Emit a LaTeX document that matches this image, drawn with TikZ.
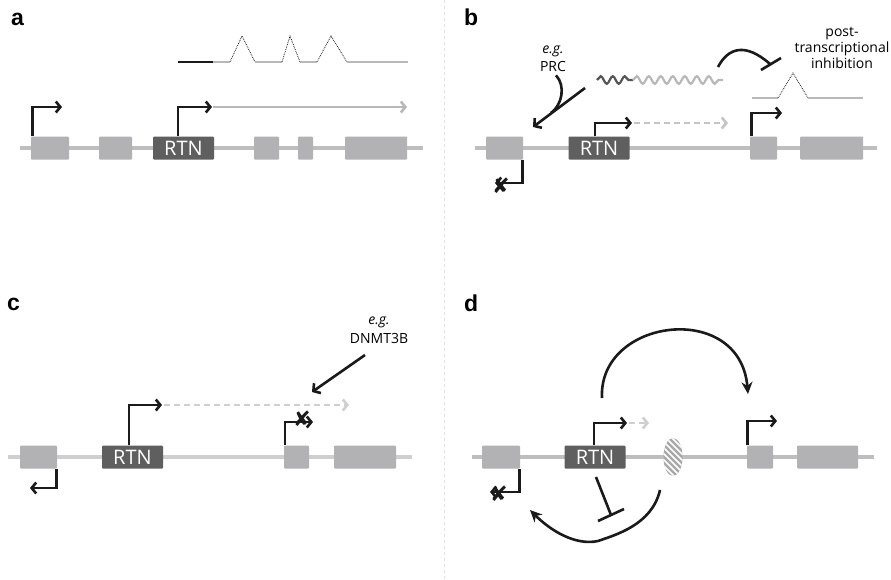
\documentclass[tikz,border=0pt]{standalone}
\usepackage{fontspec}
\setmainfont{Open Sans}
\newfontfamily\lblfont{Liberation Sans}
\newfontfamily\symfont{DejaVu Sans}
\usetikzlibrary{arrows.meta,decorations.pathmorphing,shapes.geometric,calc}
\definecolor{bbgray}{HTML}{BEBEBE}
\definecolor{bblight}{HTML}{CFCFCF}
\definecolor{exgray}{HTML}{B2B2B4}
\definecolor{rtngray}{HTML}{5F5F5F}
\definecolor{txgray}{HTML}{B8B8B8}
\definecolor{dashgray}{HTML}{C4C4C4}
\definecolor{ink}{HTML}{1A1A1A}
\definecolor{wavedark}{HTML}{555555}
\definecolor{insgray}{HTML}{A8A8A8}
\tikzset{
  lbl/.style={anchor=base west, inner sep=0pt, font=\lblfont\bfseries\fontsize{23}{23}\selectfont},
  backbone/.style={line width=4.2pt, color=bbgray},
  exon/.style={rectangle, fill=exgray, rounded corners=1pt, inner sep=0pt, minimum height=23pt},
  rtnbox/.style={rectangle, fill=rtngray, rounded corners=1pt, inner sep=0pt, minimum height=23pt, minimum width=61pt, text=white, font=\fontsize{20}{20}\selectfont},
  prom/.style={line width=2.6pt, color=ink, -{Straight Barb[length=4.5pt,width=11pt]}},
  revprom/.style={line width=2.6pt, color=ink, -{Straight Barb[length=4.5pt,width=11pt]}},
  grayarrow/.style={line width=2.6pt, color=txgray, -{Straight Barb[length=4.5pt,width=11pt]}},
  dasharrow/.style={line width=2.6pt, color=dashgray, dash pattern=on 6pt off 4pt, -{Straight Barb[length=4.5pt,width=11pt]}},
  txline/.style={line width=2.6pt, color=txgray},
  intron/.style={line width=0.8pt, color=ink, densely dotted},
  pointer/.style={line width=2.6pt, color=ink, -{Straight Barb[length=5pt,width=12pt]}},
  plainline/.style={line width=2.6pt, color=ink},
  bigarc/.style={line width=2.6pt, color=ink, -{Stealth[length=12pt,width=11pt]}},
  note/.style={inner sep=0pt, align=center, font=\fontsize{14}{16}\selectfont},
  xmark/.style={inner sep=0pt, font=\symfont\bfseries\fontsize{21}{21}\selectfont, text=ink},
  wave/.style={line width=2.2pt, decorate, decoration={snake, segment length=12pt, amplitude=3.8pt}},
  divider/.style={line width=1pt, color=black!12, dash pattern=on 3pt off 3pt}
}
\begin{document}
\begin{tikzpicture}[x=1pt,y=-1pt]
\useasboundingbox (0,0) rectangle (891,579);
\fill[white] (0,0) rectangle (891,579);

% divider
\coordinate (dtop) at (444,0);
\coordinate (dbot) at (444,579);
\draw[divider] (dtop) -- (dbot);

%%%%%%%%%%%%%%%% panel a
\node[lbl] (la) at (11,25) {a};
\coordinate (abbL) at (20,148);
\coordinate (abbR) at (423,148);
\draw[backbone] (abbL) -- (abbR);
\node[exon, minimum width=38pt] (a1) at (50,148) {};
\node[exon, minimum width=33pt] (a2) at (115.5,148) {};
\node[rtnbox] (aR) at (183.5,148) {RTN};
\node[exon, minimum width=25pt] (a4) at (266.5,148) {};
\node[exon, minimum width=15pt] (a5) at (305.5,148) {};
\node[exon, minimum width=62pt] (a6) at (376,148) {};
\coordinate (ap1) at (62,107);
\draw[prom] ([xshift=1.5pt]a1.north west) |- (ap1);
\coordinate (ap2) at (212,107);
\coordinate (ap3) at (407,107);
\draw[grayarrow] ([xshift=1pt]ap2) -- (ap3);
\draw[prom] ([xshift=-5.5pt]aR.north) |- (ap2);
% spliced transcript
\coordinate (s0) at (178,62);
\coordinate (s1) at (213,62);
\coordinate (s2) at (230,62);
\coordinate (s3) at (242,36);
\coordinate (s4) at (255,62);
\coordinate (s5) at (282,62);
\coordinate (s6) at (290,36);
\coordinate (s7) at (300,62);
\coordinate (s8) at (317,62);
\coordinate (s9) at (331,36);
\coordinate (s10) at (347,62);
\coordinate (s11) at (408,62);
\draw[line width=2.6pt, color=ink] (s0) -- (s1);
\draw[txline] (s1) -- (s2);
\draw[intron] (s2) -- (s3) -- (s4);
\draw[txline] (s4) -- (s5);
\draw[intron] (s5) -- (s6) -- (s7);
\draw[txline] (s7) -- (s8);
\draw[intron] (s8) -- (s9) -- (s10);
\draw[txline] (s10) -- (s11);

%%%%%%%%%%%%%%%% panel b
\node[lbl] (lb) at (464,25) {b};
\coordinate (bbbL) at (475,148);
\coordinate (bbbR) at (877,148);
\draw[backbone] (bbbL) -- (bbbR);
\node[exon, minimum width=37pt] (b1) at (504.5,148) {};
\node[rtnbox] (bR) at (599,148) {RTN};
\node[exon, minimum width=27pt] (b3) at (763.5,148) {};
\node[exon, minimum width=63pt] (b4) at (831.5,148) {};
% RTN promoter, dashed transcript
\coordinate (bp1) at (632,123);
\coordinate (bp2) at (728,123);
\draw[dasharrow] ([xshift=2pt]bp1) -- (bp2);
\draw[prom] ([xshift=-4pt]bR.north) |- (bp1);
% right promoter
\coordinate (bp3) at (782,113);
\draw[prom] ([xshift=1.5pt]b3.north west) |- (bp3);
% silenced reverse promoter
\coordinate (bp4) at (495,183);
\draw[revprom] ([xshift=-0.5pt]b1.south east) |- (bp4);
\node[xmark] (bx) at (501,186) {✘};
% spliced
\coordinate (t0) at (752,98);
\coordinate (t1) at (778,98);
\coordinate (t2) at (793,73);
\coordinate (t3) at (808,98);
\coordinate (t4) at (863,98);
\draw[txline] (t0) -- (t1);
\draw[intron] (t1) -- (t2) -- (t3);
\draw[txline] (t3) -- (t4);
% wavy RNA
\coordinate (w0) at (597,80);
\coordinate (w1) at (633,80);
\coordinate (w2) at (723,80);
\draw[wave, color=wavedark] (w0) -- (w1);
\draw[wave, color=txgray] (w1) -- (w2);
% PRC
\node[note] (egb) at (553,51) {\itshape e.g.};
\node[note] (prc) at (553,66) {PRC};
\coordinate (pa0) at (585,88);
\coordinate (pa1) at (533,127);
\coordinate (pj) at (551,113);
\draw[pointer] (pa0) -- (pa1);
\draw[plainline] ([xshift=3pt,yshift=-4pt]prc.south) .. controls (566,86) and (562,105) .. (pj);
% post-transcriptional inhibition
\node[note] (pti) at (842,48) {post-\\transcriptional\\inhibition};
\coordinate (i0) at (718,67);
\coordinate (i1) at (770,64);
\coordinate (ib0) at (761,70);
\coordinate (ib1) at (781,58);
\draw[plainline] (i0) .. controls (728,48) and (745,42) .. (i1);
\draw[plainline] (ib0) -- (ib1);

%%%%%%%%%%%%%%%% panel c
\node[lbl] (lc) at (7,310) {c};
\coordinate (cbbL) at (8,457);
\coordinate (cbbR) at (412,457);
\draw[backbone, color=bblight] (cbbL) -- (cbbR);
\node[exon, minimum width=37pt] (c1) at (38.5,457) {};
\node[rtnbox] (cR) at (132.5,457) {RTN};
\node[exon, minimum width=25pt] (c3) at (296.5,457) {};
\node[exon, minimum width=62pt] (c4) at (365,457) {};
\coordinate (cp1) at (162,405);
\coordinate (cp2) at (349,405);
\draw[dasharrow, color=bblight] ([xshift=2pt]cp1) -- (cp2);
\draw[prom] ([xshift=-3.5pt]cR.north) |- (cp1);
\coordinate (cp3) at (313,422);
\draw[prom] ([xshift=1pt]c3.north west) |- (cp3);
\node[xmark] (cx) at (302,419) {✘};
\coordinate (cp4) at (30,488);
\draw[revprom] ([xshift=-0.5pt]c1.south east) |- (cp4);
\node[note] (egc) at (379,322) {\itshape e.g.};
\node[note] (dnmt) at (379,338) {DNMT3B};
\coordinate (da0) at (365,355);
\coordinate (da1) at (312,392);
\draw[pointer] (da0) -- (da1);

%%%%%%%%%%%%%%%% panel d
\node[lbl] (ld) at (464,311) {d};
\coordinate (dbbL) at (472,457);
\coordinate (dbbR) at (874,457);
\draw[backbone] (dbbL) -- (dbbR);
\node[exon, minimum width=38pt] (d1) at (501,457) {};
\node[rtnbox] (dR) at (595,457) {RTN};
\node[ellipse, inner sep=0pt, minimum width=19pt, minimum height=38pt, fill=insgray,
  path picture={\foreach \k in {-36,-30,...,36}{\draw[white, line width=1.5pt] ($(path picture bounding box.center)+(\k-25,-25)$) -- ++(50,50);}}] (ins) at (673,457) {};
\node[exon, minimum width=26pt] (d3) at (760,457) {};
\node[exon, minimum width=61pt] (d4) at (827.5,457) {};
\coordinate (dp1) at (627,423);
\coordinate (dp2) at (649,423);
\draw[dasharrow, color=bblight] ([xshift=2pt]dp1) -- (dp2);
\draw[prom] ([xshift=-1pt]dR.north) |- (dp1);
\coordinate (dp3) at (777,421);
\draw[prom] ([xshift=0.5pt]d3.north west) |- (dp3);
\coordinate (dp4) at (490,492);
\draw[revprom] ([xshift=-0.5pt]d1.south east) |- (dp4);
\node[xmark] (dx) at (499,494) {✘};
% long-range arc
\coordinate (arc0) at (602,398);
\coordinate (arc1) at (748,394);
\draw[bigarc] (arc0) .. controls (598,318) and (740,300) .. (arc1);
% inhibition of reverse promoter
\coordinate (tb0) at (596,477);
\coordinate (tb1) at (611,515);
\coordinate (tbA) at (598,521);
\coordinate (tbB) at (624,509);
\draw[plainline] (tb0) -- (tb1);
\draw[plainline] (tbA) -- (tbB);
% lower curved arrow
\coordinate (lc0) at (660,490);
\coordinate (lcm) at (598,541);
\coordinate (lc1) at (530,510);
\draw[bigarc] (lc0) .. controls (652,525) and (615,535) .. (lcm) .. controls (575,546) and (550,530) .. (lc1);
\end{tikzpicture}
\end{document}
